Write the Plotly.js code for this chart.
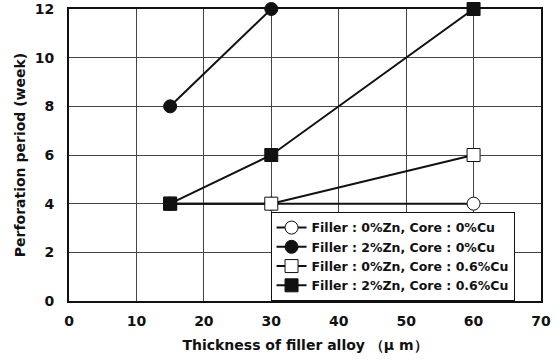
<!DOCTYPE html>
<html>
<head>
<meta charset="utf-8">
<script src="https://cdn.plot.ly/plotly-3.0.1.min.js"></script>
<style>html,body{margin:0;padding:0;background:#fff;}#chart{width:560px;height:363px;}</style>
</head>
<body>
<div id="chart"></div>
<script>
var seriesNames = ["Filler : 0%Zn, Core : 0%Cu", "Filler : 2%Zn, Core : 0%Cu", "Filler : 0%Zn, Core : 0.6%Cu", "Filler : 2%Zn, Core : 0.6%Cu"];
var x_s1 = [15, 30, 60];
var y_s1 = [4, 4, 4];
var x_s2 = [15, 30];
var y_s2 = [8, 12];
var x_s3 = [15, 30, 60];
var y_s3 = [4, 4, 6];
var x_s4 = [15, 30, 60];
var y_s4 = [4, 6, 12];
var xTicks = [0, 10, 20, 30, 40, 50, 60, 70];
var yTicks = [0, 2, 4, 6, 8, 10, 12];

function tr(x, y, name, symbol, fill) {
  return {
    x: x, y: y, name: name, type: "scatter", mode: "lines+markers",
    line: {color: "#111", width: 2},
    marker: {symbol: symbol, size: 13, color: fill, line: {color: "#111", width: 1}},
    cliponaxis: false
  };
}
var data = [
  tr(x_s1, y_s1, seriesNames[0], "circle", "#fff"),
  tr(x_s2, y_s2, seriesNames[1], "circle", "#111"),
  tr(x_s3, y_s3, seriesNames[2], "square", "#fff"),
  tr(x_s4, y_s4, seriesNames[3], "square", "#111")
];
var fam = "DejaVu Sans, Liberation Sans, sans-serif";
var layout = {
  width: 560, height: 363,
  margin: {l: 69, r: 19, t: 9, b: 62},
  paper_bgcolor: "#fff", plot_bgcolor: "#fff",
  showlegend: true,
  legend: {
    x: 0.427, y: 0.305, xanchor: "left", yanchor: "top",
    bgcolor: "#fff", bordercolor: "#111", borderwidth: 1,
    font: {family: fam, size: 12.5, color: "#111", weight: "bold"},
    itemwidth: 30, tracegroupgap: 0
  },
  xaxis: {
    range: [0, 70], tickvals: xTicks, ticktext: xTicks.map(String),
    showgrid: true, gridcolor: "#444", gridwidth: 1,
    showline: true, linecolor: "#111", linewidth: 2, mirror: true,
    zeroline: false, ticks: "", ticklabelstandoff: 6,
    tickfont: {family: fam, size: 14, color: "#111", weight: "bold"},
    title: {text: "Thickness of filler alloy \uff08\u03bc m\uff09", font: {family: fam, size: 14, color: "#111", weight: "bold"}, standoff: 12}
  },
  yaxis: {
    range: [0, 12], tickvals: yTicks, ticktext: yTicks.map(String),
    showgrid: true, gridcolor: "#444", gridwidth: 1,
    showline: true, linecolor: "#111", linewidth: 2, mirror: true,
    zeroline: false, ticks: "", ticklabelstandoff: 10,
    tickfont: {family: fam, size: 14, color: "#111", weight: "bold"},
    title: {text: "Perforation period (week)", font: {family: fam, size: 14, color: "#111", weight: "bold"}, standoff: 6}
  }
};
Plotly.newPlot("chart", data, layout, {displayModeBar: false, staticPlot: true});
</script>
</body>
</html>
